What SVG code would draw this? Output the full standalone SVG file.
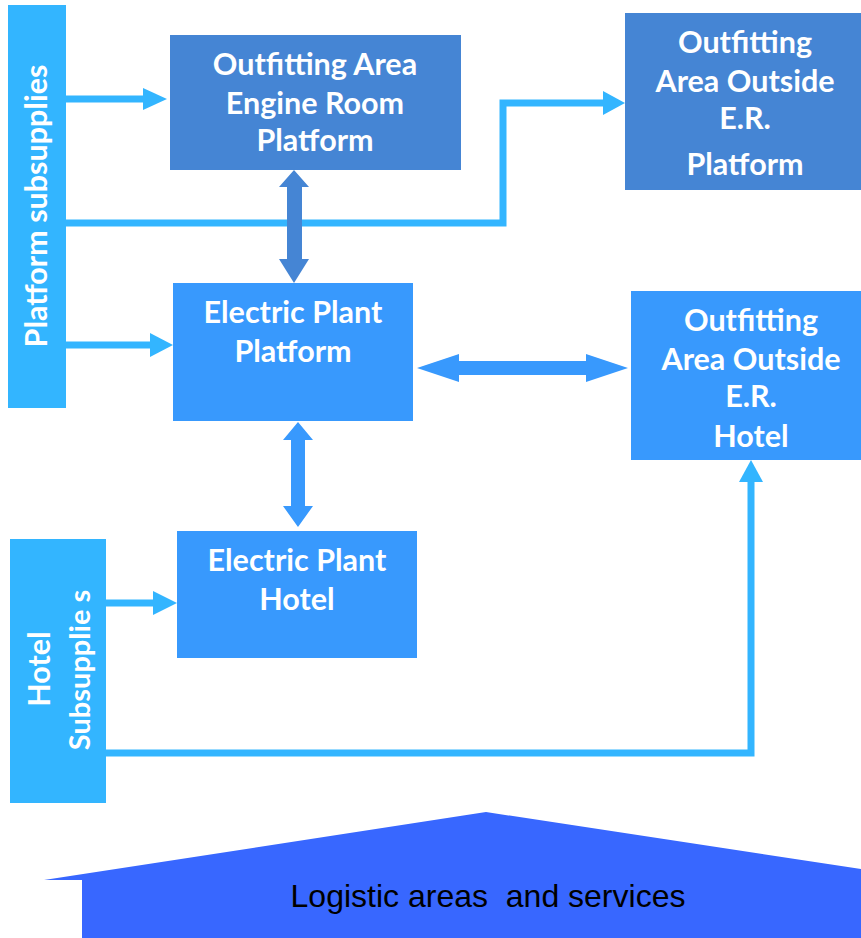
<svg xmlns="http://www.w3.org/2000/svg" width="861" height="938" viewBox="0 0 861 938">
<style>
.t{font-family:Lato,"Open Sans","Liberation Sans",sans-serif;font-weight:bold;font-size:30.5px;fill:#fff;text-anchor:middle}
.dk{fill:#4585d4}
.md{fill:#3899fd}
.lt{fill:#33b5ff}
.ln{fill:none;stroke:#33b5ff;stroke-width:7}
</style>
<rect width="861" height="938" fill="#fff"/>
<g id="platform-subsupplies">
<rect class="lt" x="8" y="5" width="58" height="403"/>
<text class="t" transform="translate(47,206) rotate(-90)">Platform subsupplies</text>
</g>
<g id="hotel-subsupplies">
<rect class="lt" x="10" y="539" width="96" height="264"/>
<text class="t" transform="translate(50,669) rotate(-90)">Hotel</text>
<text class="t" transform="translate(90,670) rotate(-90)" style="font-size:29px">Subsupplie s</text>
</g>
<g id="oa-er-platform">
<rect class="dk" x="170" y="35" width="291" height="135"/>
<text class="t" x="315" y="75">Outfitting Area</text>
<text class="t" x="315" y="114">Engine Room</text>
<text class="t" x="315" y="151">Platform</text>
</g>
<g id="oa-outside-platform">
<rect class="dk" x="625" y="13" width="236" height="177"/>
<text class="t" x="745" y="53">Outfitting</text>
<text class="t" x="745" y="92">Area Outside</text>
<text class="t" x="745" y="129">E.R.</text>
<text class="t" x="745" y="175">Platform</text>
</g>
<g id="ep-platform">
<rect class="md" x="173" y="283" width="240" height="138"/>
<text class="t" x="293" y="323">Electric Plant</text>
<text class="t" x="293" y="362">Platform</text>
</g>
<g id="oa-outside-hotel">
<rect class="md" x="631" y="291" width="230" height="169"/>
<text class="t" x="751" y="331">Outfitting</text>
<text class="t" x="751" y="370">Area Outside</text>
<text class="t" x="751" y="407">E.R.</text>
<text class="t" x="751" y="447">Hotel</text>
</g>
<g id="ep-hotel">
<rect class="md" x="177" y="531" width="240" height="127"/>
<text class="t" x="297" y="571">Electric Plant</text>
<text class="t" x="297" y="610">Hotel</text>
</g>
<g id="logistics">
<polygon points="44,880 486,812 861,869 861,938 82,938 82,880" fill="#3867ff"/>
<text x="488" y="907" font-family="'Liberation Sans',Arial,sans-serif" font-size="32" text-anchor="middle" fill="#000" style="white-space:pre">Logistic areas  and services</text>
</g>
<g id="connectors">
<line class="ln" x1="66" y1="99" x2="145" y2="99"/>
<polygon class="lt" points="143,88 167,99 143,110"/>
<polyline class="ln" points="66,223 503,223 503,103 605,103"/>
<polygon class="lt" points="603,91 625,103 603,115"/>
<line class="ln" x1="66" y1="345" x2="152" y2="345"/>
<polygon class="lt" points="150,333 173,345 150,357"/>
<line class="ln" x1="106" y1="603" x2="155" y2="603"/>
<polygon class="lt" points="153,591 177,603 153,615"/>
<polyline class="ln" points="106,753 751,753 751,480"/>
<polygon class="lt" points="739,482 751,460 763,482"/>
<polygon class="dk" points="294,170 309,187 302,187 302,259 309,259 294,283 279,259 287,259 287,187 279,187"/>
<polygon class="md" points="417,368 459,354 459,361 586,361 586,354 628,368 586,382 586,375 459,375 459,382"/>
<polygon class="md" points="298,422 313,440 305,440 305,506 313,506 298,527 283,506 291,506 291,440 283,440"/>
</g>
</svg>
